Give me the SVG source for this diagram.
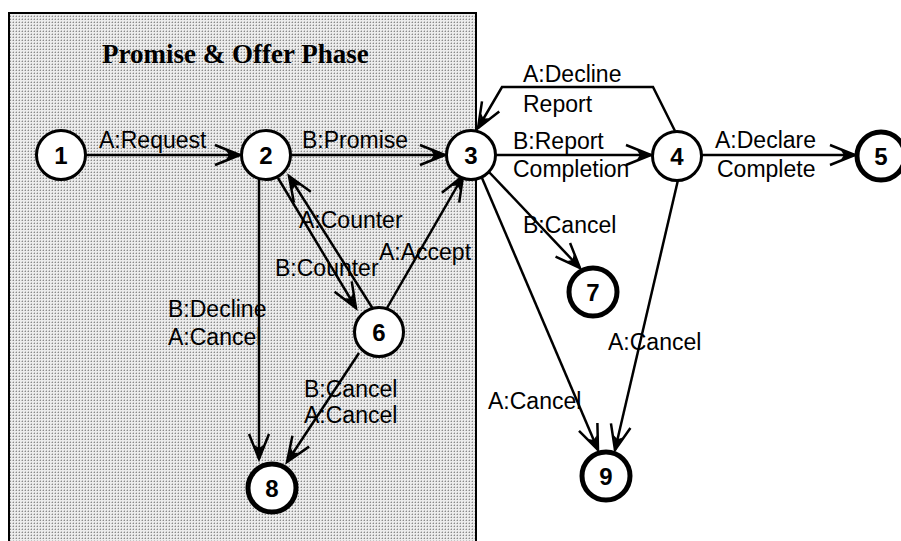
<svg xmlns="http://www.w3.org/2000/svg" width="901" height="541" viewBox="0 0 901 541">
<style>
.lbl{font-family:"Liberation Sans",Arial,sans-serif;font-size:23px;fill:#000}
.num{font-family:"Liberation Sans",Arial,sans-serif;font-size:24px;font-weight:bold;fill:#000;text-anchor:middle}
.title{font-family:"Liberation Serif","Times New Roman",serif;font-size:27px;font-weight:bold;fill:#000}
.n{fill:#fff;stroke:#000;stroke-width:3}
.f{fill:#fff;stroke:#000;stroke-width:5}
.e{fill:none;stroke:#000;stroke-width:2.5;marker-end:url(#ah)}
</style>
<defs>
<pattern id="dots" width="3" height="3" patternUnits="userSpaceOnUse">
<rect width="3" height="3" fill="#ececec"/>
<rect x="1" y="1" width="1" height="1" fill="#8a8a8a"/>
<rect x="0" y="1" width="1" height="1" fill="#c4c4c4"/>
<rect x="1" y="0" width="1" height="1" fill="#c4c4c4"/>
</pattern>
<marker id="ah" markerUnits="userSpaceOnUse" markerWidth="40" markerHeight="30" viewBox="-30 -15 40 30" refX="0" refY="0" orient="auto">
<path d="M-25,-10 L0,0 L-25,10" fill="none" stroke="#000" stroke-width="2.5"/>
<path d="M0,0 L-14,-4.5 L-11,0 L-14,4.5 Z" fill="#000"/>
</marker>
</defs>
<g id="phase">
<rect x="9" y="13" width="467" height="540" fill="url(#dots)" stroke="#000" stroke-width="2"/>
<text class="title" x="102" y="63">Promise &amp; Offer Phase</text>
</g>
<g id="connectors">
<line class="e" x1="86" y1="155" x2="240" y2="155"/>
<line class="e" x1="291" y1="155" x2="445" y2="155"/>
<line class="e" x1="496" y1="155" x2="651" y2="155"/>
<line class="e" x1="702" y1="155" x2="855" y2="155"/>
<polyline class="e" points="675,131 653,87 502,87 478,128"/>
<line class="e" x1="489" y1="172" x2="580" y2="268"/>
<line class="e" x1="482" y1="178" x2="598" y2="450"/>
<line class="e" x1="678" y1="180" x2="615" y2="450"/>
<line class="e" x1="259" y1="179" x2="259" y2="459"/>
<line class="e" x1="278" y1="178" x2="356" y2="308"/>
<line class="e" x1="373" y1="309" x2="289" y2="176"/>
<line class="e" x1="387" y1="308" x2="463" y2="176"/>
<line class="e" x1="359" y1="353" x2="287" y2="462"/>
</g>
<g id="labels">
<text class="lbl" x="99" y="148">A:Request</text>
<text class="lbl" x="302" y="148">B:Promise</text>
<text class="lbl" x="513" y="149">B:Report</text>
<text class="lbl" x="513" y="177">Completion</text>
<text class="lbl" x="715" y="148">A:Declare</text>
<text class="lbl" x="717" y="177">Complete</text>
<text class="lbl" x="523" y="82">A:Decline</text>
<text class="lbl" x="523" y="112">Report</text>
<text class="lbl" x="523" y="233">B:Cancel</text>
<text class="lbl" x="299" y="228">A:Counter</text>
<text class="lbl" x="379" y="260">A:Accept</text>
<text class="lbl" x="275" y="276">B:Counter</text>
<text class="lbl" x="168" y="317">B:Decline</text>
<text class="lbl" x="168" y="345">A:Cancel</text>
<text class="lbl" x="304" y="397">B:Cancel</text>
<text class="lbl" x="304" y="423">A:Cancel</text>
<text class="lbl" x="608" y="350">A:Cancel</text>
<text class="lbl" x="488" y="409">A:Cancel</text>
</g>
<g id="node1"><circle class="n" cx="61" cy="155" r="24.5"/><text class="num" x="61" y="164">1</text></g>
<g id="node2"><circle class="n" cx="266" cy="155" r="24.5"/><text class="num" x="266" y="164">2</text></g>
<g id="node3"><circle class="n" cx="471" cy="155" r="24.5"/><text class="num" x="471" y="164">3</text></g>
<g id="node4"><circle class="n" cx="677" cy="156" r="24.5"/><text class="num" x="677" y="165">4</text></g>
<g id="node5"><circle class="f" cx="881" cy="156" r="24"/><text class="num" x="881" y="165">5</text></g>
<g id="node6"><circle class="n" cx="379" cy="332" r="24.5"/><text class="num" x="379" y="341">6</text></g>
<g id="node7"><circle class="f" cx="593" cy="292" r="24"/><text class="num" x="593" y="301">7</text></g>
<g id="node8"><circle class="f" cx="272" cy="488" r="24"/><text class="num" x="272" y="497">8</text></g>
<g id="node9"><circle class="f" cx="606" cy="476" r="24"/><text class="num" x="606" y="485">9</text></g>
</svg>
